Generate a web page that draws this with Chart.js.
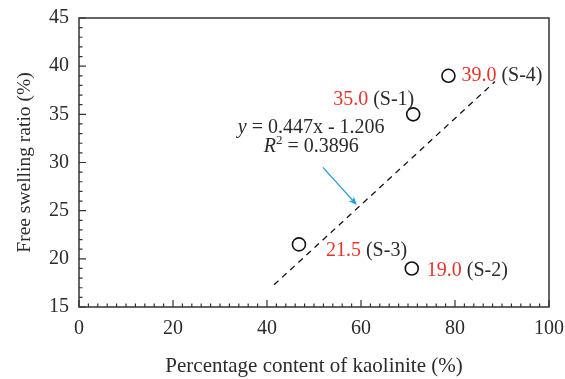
<!DOCTYPE html>
<html>
<head>
<meta charset="utf-8">
<script src="https://cdn.jsdelivr.net/npm/chart.js@4.4.1/dist/chart.umd.min.js"></script>
<style>
  body { margin: 0; background: #fff; }
  #wrap { width: 565px; height: 379px; }
</style>
</head>
<body>
<div id="wrap"><canvas id="swell"></canvas></div>
<script>
const sampleNames = ['S-1', 'S-2', 'S-3', 'S-4'];
const kaolinite = [71.1, 70.8, 46.8, 78.6];
const swelling = [35.0, 19.0, 21.5, 39.0];
const trendX = [41.5, 88.5];
const trendY = [17.3, 38.4];
const xTicks = [0, 20, 40, 60, 80, 100];
const yTicks = [15, 20, 25, 30, 35, 40, 45];

const serif = "'Liberation Serif', 'DejaVu Serif', serif";
const red = '#e5332a';
const ink = '#2b2b2b';

// label offsets (px) from each point: left edge of text, vertical centre
const labelShift = { 'S-1': [-80, -15], 'S-2': [15, 2], 'S-3': [27, 6], 'S-4': [13, 0] };

const frame = {
  id: 'frame',
  afterDraw(chart) {
    const { ctx, chartArea: a, scales: { x, y } } = chart;
    ctx.save();
    ctx.strokeStyle = '#333';
    ctx.lineWidth = 1.5;
    ctx.strokeRect(a.left, a.top, a.right - a.left, a.bottom - a.top);

    // inward ticks, minor every 2 on x and every 1 on y
    ctx.lineWidth = 1.2;
    ctx.beginPath();
    for (let v = xTicks[0]; v <= xTicks[xTicks.length - 1]; v += 2) {
      const px = x.getPixelForValue(v);
      const len = xTicks.includes(v) ? 7 : 3.5;
      ctx.moveTo(px, a.bottom);
      ctx.lineTo(px, a.bottom - len);
    }
    for (let v = yTicks[0]; v <= yTicks[yTicks.length - 1]; v += 1) {
      const py = y.getPixelForValue(v);
      const len = yTicks.includes(v) ? 7 : 3.5;
      ctx.moveTo(a.left, py);
      ctx.lineTo(a.left + len, py);
    }
    ctx.stroke();
    ctx.restore();
  },
  afterDatasetsDraw(chart) {
    const { ctx, scales: { x, y } } = chart;
    ctx.save();
    ctx.font = '20px ' + serif;
    ctx.textBaseline = 'middle';
    sampleNames.forEach((name, i) => {
      const [dx, dy] = labelShift[name];
      let px = x.getPixelForValue(kaolinite[i]) + dx;
      const py = y.getPixelForValue(swelling[i]) + dy;
      const val = swelling[i].toFixed(1);
      ctx.fillStyle = red;
      ctx.fillText(val, px, py);
      px += ctx.measureText(val + ' ').width;
      ctx.fillStyle = ink;
      ctx.fillText('(' + name + ')', px, py);
    });

    // regression equation
    const cx = x.getPixelForValue(49.4);
    const parts1 = [['italic 20px ', 'y'], ['20px ', ' = 0.447x - 1.206']];
    let w = 0;
    parts1.forEach(p => { ctx.font = p[0] + serif; w += ctx.measureText(p[1]).width; });
    let px = cx - w / 2;
    const y1 = y.getPixelForValue(33.6);
    ctx.fillStyle = ink;
    parts1.forEach(p => { ctx.font = p[0] + serif; ctx.fillText(p[1], px, y1); px += ctx.measureText(p[1]).width; });

    const parts2 = [['italic 20px ', 'R', 0], ['13px ', '2', -7], ['20px ', ' = 0.3896', 0]];
    w = 0;
    parts2.forEach(p => { ctx.font = p[0] + serif; w += ctx.measureText(p[1]).width; });
    px = cx - w / 2;
    const y2 = y.getPixelForValue(31.6);
    parts2.forEach(p => { ctx.font = p[0] + serif; ctx.fillText(p[1], px, y2 + p[2]); px += ctx.measureText(p[1]).width; });

    // arrow pointing to trend line
    const x0 = x.getPixelForValue(51.9), yy0 = y.getPixelForValue(29.5);
    const x1 = x.getPixelForValue(59.1), yy1 = y.getPixelForValue(25.6);
    const ang = Math.atan2(yy1 - yy0, x1 - x0);
    ctx.strokeStyle = '#1b9ad6';
    ctx.fillStyle = '#1b9ad6';
    ctx.lineWidth = 1.3;
    ctx.beginPath();
    ctx.moveTo(x0, yy0);
    ctx.lineTo(x1 - 6 * Math.cos(ang), yy1 - 6 * Math.sin(ang));
    ctx.stroke();
    ctx.beginPath();
    ctx.moveTo(x1, yy1);
    ctx.lineTo(x1 - 9 * Math.cos(ang - 0.4), yy1 - 9 * Math.sin(ang - 0.4));
    ctx.lineTo(x1 - 6 * Math.cos(ang), yy1 - 6 * Math.sin(ang));
    ctx.lineTo(x1 - 9 * Math.cos(ang + 0.4), yy1 - 9 * Math.sin(ang + 0.4));
    ctx.closePath();
    ctx.fill();
    ctx.restore();
  }
};

Chart.defaults.font.family = serif;
Chart.defaults.font.size = 20;
Chart.defaults.color = ink;

new Chart(document.getElementById('swell'), {
  type: 'scatter',
  data: {
    datasets: [
      {
        data: kaolinite.map((k, i) => ({ x: k, y: swelling[i] })),
        pointStyle: 'circle',
        pointRadius: 6.5,
        pointBorderWidth: 1.6,
        pointBorderColor: '#111',
        pointBackgroundColor: '#fff'
      },
      {
        type: 'line',
        data: trendX.map((t, i) => ({ x: t, y: trendY[i] })),
        borderColor: '#111',
        borderWidth: 1.3,
        borderDash: [6, 5],
        pointRadius: 0,
        fill: false
      }
    ]
  },
  options: {
    responsive: true,
    maintainAspectRatio: false,
    animation: false,
    layout: { padding: { top: 18, right: 16, left: 0, bottom: 0 } },
    plugins: { legend: { display: false }, tooltip: { enabled: false } },
    scales: {
      x: {
        type: 'linear', min: 0, max: 100,
        grid: { display: false, drawTicks: false }, border: { display: false },
        ticks: { stepSize: 20, padding: 10, maxRotation: 0 },
        title: { display: true, text: 'Percentage content of kaolinite (%)', font: { size: 21 }, padding: { top: 0, bottom: 0 } },
        afterFit(s) { s.height = 72; s.paddingLeft = 0; s.paddingRight = 0; }
      },
      y: {
        min: 15, max: 45,
        grid: { display: false, drawTicks: false }, border: { display: false },
        ticks: { stepSize: 5, padding: 10 },
        title: { display: true, text: 'Free swelling ratio (%)', font: { size: 19.5 }, padding: { top: 13, bottom: 0 } },
        afterFit(s) { s.width = 79; s.paddingTop = 0; s.paddingBottom = 0; }
      }
    }
  },
  plugins: [frame]
});
</script>
</body>
</html>
